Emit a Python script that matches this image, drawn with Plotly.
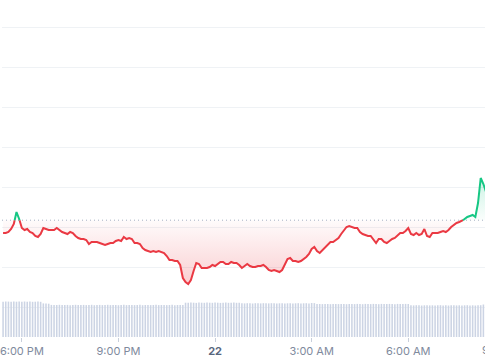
import pandas as pd
import plotly.graph_objects as go

# ---------------- data ----------------
start_time = "2024-03-21 17:25"
x_range = ["2024-03-21 17:23", "2024-03-22 08:23"]
base_price = 0.9634  # opening price (dotted reference line)

price = [
    0.9570, 0.9570, 0.9575, 0.9590, 0.9615, 0.9675, 0.9640, 0.9595, 0.9585, 0.9590,
    0.9575, 0.9570, 0.9555, 0.9550, 0.9565, 0.9595, 0.9590, 0.9585, 0.9585, 0.9585,
    0.9595, 0.9585, 0.9575, 0.9570, 0.9565, 0.9575, 0.9570, 0.9555, 0.9545, 0.9540,
    0.9540, 0.9535, 0.9515, 0.9525, 0.9525, 0.9525, 0.9520, 0.9515, 0.9510, 0.9515,
    0.9520, 0.9520, 0.9530, 0.9535, 0.9530, 0.9550, 0.9540, 0.9545, 0.9540, 0.9520,
    0.9520, 0.9515, 0.9495, 0.9485, 0.9480, 0.9475, 0.9480, 0.9475, 0.9480, 0.9475,
    0.9470, 0.9455, 0.9435, 0.9435, 0.9430, 0.9430, 0.9410, 0.9345, 0.9325, 0.9315,
    0.9335, 0.9380, 0.9420, 0.9415, 0.9395, 0.9395, 0.9395, 0.9400, 0.9410, 0.9405,
    0.9415, 0.9425, 0.9425, 0.9415, 0.9415, 0.9425, 0.9420, 0.9420, 0.9410, 0.9395,
    0.9405, 0.9415, 0.9405, 0.9400, 0.9400, 0.9405, 0.9405, 0.9410, 0.9400, 0.9385,
    0.9380, 0.9385, 0.9380, 0.9375, 0.9385, 0.9410, 0.9440, 0.9445, 0.9430, 0.9430,
    0.9425, 0.9430, 0.9440, 0.9450, 0.9465, 0.9490, 0.9500, 0.9480, 0.9470, 0.9485,
    0.9500, 0.9515, 0.9525, 0.9525, 0.9535, 0.9545, 0.9565, 0.9580, 0.9600, 0.9605,
    0.9600, 0.9595, 0.9595, 0.9575, 0.9565, 0.9560, 0.9555, 0.9555, 0.9535, 0.9520,
    0.9540, 0.9540, 0.9525, 0.9520, 0.9530, 0.9540, 0.9545, 0.9560, 0.9570, 0.9570,
    0.9580, 0.9595, 0.9565, 0.9560, 0.9570, 0.9560, 0.9565, 0.9590, 0.9555, 0.9550,
    0.9570, 0.9570, 0.9570, 0.9575, 0.9580, 0.9575, 0.9585, 0.9600, 0.9610, 0.9620,
    0.9625, 0.9630, 0.9640, 0.9650, 0.9655, 0.9660, 0.9650, 0.9720, 0.9845, 0.9815,
    0.9775,
]

volume = [
    3.53, 3.55, 3.54, 3.52, 3.55, 3.53, 3.54, 3.52, 3.55, 3.53, 3.54, 3.52, 3.53, 3.55, 3.52,
    3.36, 3.34, 3.33,
    3.21, 3.19, 3.20, 3.22, 3.19, 3.20, 3.21, 3.18, 3.20, 3.22,
    3.19, 3.20, 3.21, 3.19, 3.20, 3.22, 3.18, 3.20, 3.21, 3.19,
    3.20, 3.22, 3.19, 3.20, 3.21, 3.18, 3.20, 3.22, 3.19, 3.20,
    3.21, 3.19, 3.20, 3.22, 3.18, 3.20, 3.21, 3.19, 3.20, 3.22,
    3.19, 3.20, 3.21, 3.19, 3.20, 3.22, 3.18, 3.20, 3.21, 3.19,
    3.43, 3.42, 3.44, 3.43, 3.41, 3.44, 3.43, 3.42, 3.44, 3.43, 3.42,
    3.44, 3.43, 3.41, 3.43, 3.44, 3.42, 3.43, 3.44, 3.42, 3.43,
    3.37, 3.36, 3.38, 3.37, 3.35, 3.38, 3.37, 3.36, 3.38, 3.37, 3.36, 3.38, 3.37, 3.35,
    3.37, 3.38, 3.36, 3.37, 3.38, 3.36, 3.37, 3.38, 3.36, 3.37, 3.38, 3.36, 3.40, 3.39,
    3.31, 3.30, 3.29, 3.31, 3.30, 3.28, 3.31, 3.30, 3.29, 3.31, 3.30, 3.28,
    3.31, 3.30, 3.29, 3.31, 3.30, 3.28, 3.31, 3.30, 3.29, 3.31, 3.30, 3.28,
    3.31, 3.30, 3.29, 3.31, 3.30, 3.28, 3.31, 3.30, 3.29, 3.31, 3.30,
    3.17, 3.16, 3.18, 3.17, 3.15, 3.17, 3.18, 3.16, 3.17, 3.15, 3.17, 3.18, 3.16, 3.17, 3.15,
    3.17, 3.18, 3.16, 3.17, 3.15, 3.17, 3.18, 3.16, 3.17, 3.15, 3.17, 3.18, 3.25, 3.20,
]

tick_vals = ["2024-03-21 18:00", "2024-03-21 21:00", "2024-03-22 00:00",
             "2024-03-22 03:00", "2024-03-22 06:00"]
tick_text = ["6:00 PM", "9:00 PM", "22", "3:00 AM", "6:00 AM"]
offscreen_tick_val = "2024-03-22 09:00"
offscreen_tick_text = "9:00 AM"

# ---------------- styles ----------------
RED = "#ea3943"
GREEN = "#16c784"
GRID = "#eff2f5"
VOL = "#ccd4e4"
LABEL = "#808a9d"
DATE_LABEL = "#58667e"
FONT = "Inter"

times = list(pd.date_range(start_time, periods=len(price), freq="5min"))

# insert the exact crossing points with the base line so colours switch cleanly
xs, ys = [times[0]], [price[0]]
for i in range(1, len(price)):
    p0, p1 = price[i - 1], price[i]
    if (p0 - base_price) * (p1 - base_price) < 0:
        f = (base_price - p0) / (p1 - p0)
        xs.append(times[i - 1] + (times[i] - times[i - 1]) * f)
        ys.append(base_price)
    xs.append(times[i])
    ys.append(p1)

below = [min(v, base_price) for v in ys]
above = [max(v, base_price) for v in ys]
red_line = [v if v <= base_price else None for v in ys]
green_line = [v if v >= base_price else None for v in ys]
base_series = [base_price] * len(xs)

fig = go.Figure()

# red gradient fill (below open)
fig.add_trace(go.Scatter(x=xs, y=base_series, mode="lines", line=dict(width=0),
                         hoverinfo="skip", showlegend=False))
fig.add_trace(go.Scatter(
    x=xs, y=below, mode="lines", line=dict(width=0), fill="tonexty",
    fillgradient=dict(type="vertical", start=min(price), stop=base_price,
                      colorscale=[[0, "rgba(234,57,67,0.24)"], [1, "rgba(234,57,67,0.02)"]]),
    hoverinfo="skip", showlegend=False))

# green gradient fill (above open)
fig.add_trace(go.Scatter(x=xs, y=base_series, mode="lines", line=dict(width=0),
                         hoverinfo="skip", showlegend=False))
fig.add_trace(go.Scatter(
    x=xs, y=above, mode="lines", line=dict(width=0), fill="tonexty",
    fillgradient=dict(type="vertical", start=base_price, stop=max(price),
                      colorscale=[[0, "rgba(22,199,132,0.02)"], [1, "rgba(22,199,132,0.22)"]]),
    hoverinfo="skip", showlegend=False))

# dotted opening-price line
fig.add_trace(go.Scatter(x=x_range, y=[base_price, base_price], mode="lines",
                         line=dict(color="#a6b0c3", width=1, dash="1px,3px"),
                         hoverinfo="skip", showlegend=False))

# price line
fig.add_trace(go.Scatter(x=xs, y=red_line, mode="lines",
                         line=dict(color=RED, width=2), connectgaps=False,
                         hoverinfo="skip", showlegend=False))
fig.add_trace(go.Scatter(x=xs, y=green_line, mode="lines",
                         line=dict(color=GREEN, width=2), connectgaps=False,
                         hoverinfo="skip", showlegend=False))

# volume bars
fig.add_trace(go.Bar(x=times, y=volume, marker=dict(color=VOL, line=dict(width=0)),
                     yaxis="y2", hoverinfo="skip", showlegend=False))

t0 = pd.Timestamp(x_range[0])
t1 = pd.Timestamp(x_range[1])
off_x = (pd.Timestamp(offscreen_tick_val) - t0) / (t1 - t0)

styled_ticks = [
    f"<span style='color:{DATE_LABEL}'><b>{t}</b></span>" if t.isdigit() else t
    for t in tick_text
]

fig.update_layout(
    width=485, height=360,
    margin=dict(l=0, r=0, t=0, b=23),
    paper_bgcolor="white", plot_bgcolor="white",
    font=dict(family=FONT, size=11, color=LABEL),
    bargap=0.42,
    hovermode=False,
    xaxis=dict(type="date", range=x_range, tickmode="array", tickvals=tick_vals,
               ticktext=styled_ticks, ticks="outside", ticklen=4, tickwidth=1,
               tickcolor="#c8cfdb", showgrid=False, showline=False, zeroline=False,
               ticklabeloverflow="allow",
               tickfont=dict(family=FONT, size=11, color=LABEL), fixedrange=True),
    yaxis=dict(range=[0.905, 1.0735], tick0=0.90, dtick=0.02, showgrid=True,
               gridcolor=GRID, gridwidth=1, showticklabels=False, zeroline=False,
               showline=False, fixedrange=True),
    yaxis2=dict(overlaying="y", range=[0, 33.7], showgrid=False, showticklabels=False,
                zeroline=False, showline=False, fixedrange=True),
    annotations=[dict(text=offscreen_tick_text, xref="paper", yref="paper",
                      x=off_x, y=0, xanchor="center", yanchor="top", yshift=-4,
                      showarrow=False, font=dict(family=FONT, size=11, color=LABEL))],
)

fig.write_html("out.html", config={"displayModeBar": False, "staticPlot": True})
